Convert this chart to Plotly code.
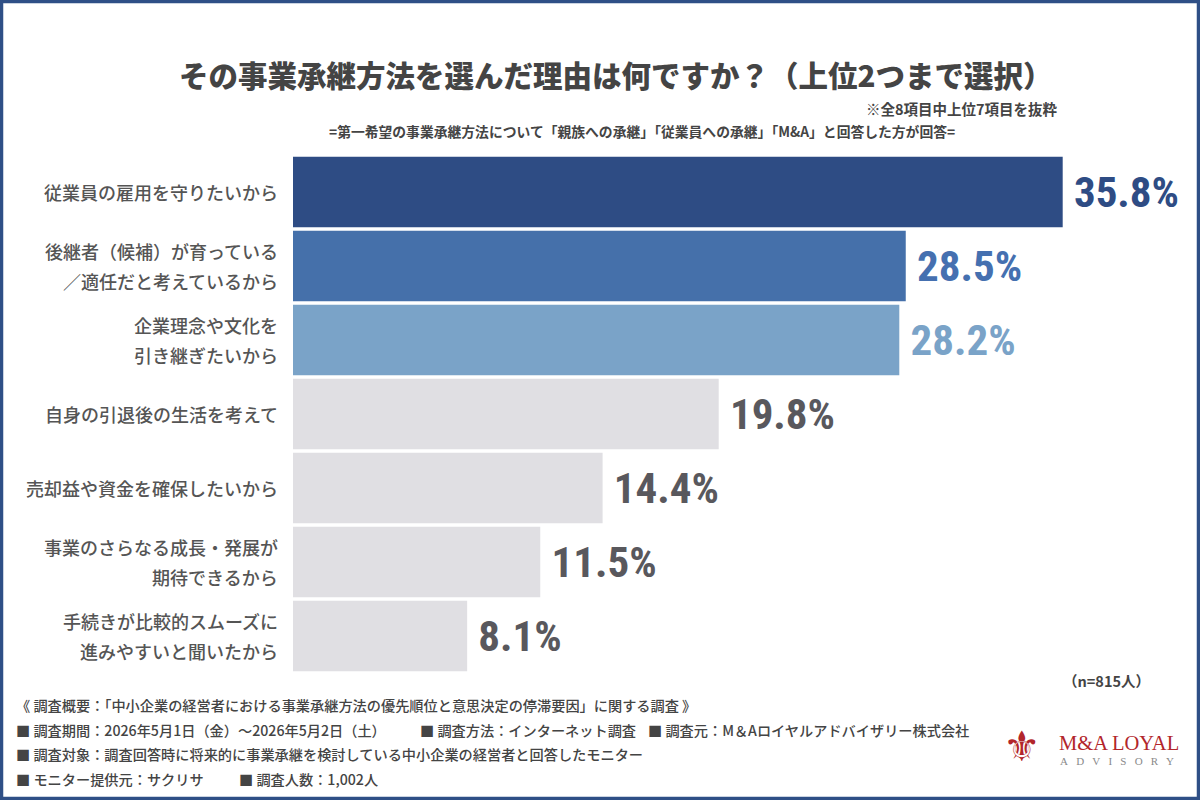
import plotly.graph_objects as go

categories = [
    "従業員の雇用を守りたいから",
    "後継者（候補）が育っている<br>／適任だと考えているから",
    "企業理念や文化を<br>引き継ぎたいから",
    "自身の引退後の生活を考えて",
    "売却益や資金を確保したいから",
    "事業のさらなる成長・発展が<br>期待できるから",
    "手続きが比較的スムーズに<br>進みやすいと聞いたから",
]
values = [35.8, 28.5, 28.2, 19.8, 14.4, 11.5, 8.1]
bar_colors = ["#2E4C84", "#4570AA", "#7AA3C8", "#E0DFE3", "#E0DFE3", "#E0DFE3", "#E0DFE3"]
text_colors = ["#2E4C84", "#4570B0", "#7AA3C8", "#59585D", "#59585D", "#59585D", "#59585D"]

title = "その事業承継方法を選んだ理由は何ですか？（上位2つまで選択）"
note = "※全8項目中上位7項目を抜粋"
subtitle = "=第一希望の事業承継方法について「親族への承継」「従業員への承継」「M&A」と回答した方が回答="
n_text = "（n=815人）"
footer_lines = [
    "《 調査概要：「中小企業の経営者における事業承継方法の優先順位と意思決定の停滞要因」に関する調査 》",
    "■ 調査期間：2026年5月1日（金）～2026年5月2日（土）",
    "■ 調査対象：調査回答時に将来的に事業承継を検討している中小企業の経営者と回答したモニター",
    "■ モニター提供元：サクリサ",
]
footer_extra = [
    ("■ 調査方法：インターネット調査", 418, 1),
    ("■ 調査元：M＆Aロイヤルアドバイザリー株式会社", 646, 1),
    ("■ 調査人数：1,002人", 237, 3),
]

W, H = 1200, 800
JP = "Noto Sans CJK JP"
NUM = "Liberation Sans Narrow, Roboto Condensed, Roboto, sans-serif"

fig = go.Figure()
fig.add_trace(go.Bar(
    x=values,
    y=categories,
    orientation="h",
    marker=dict(color=bar_colors, line=dict(width=0)),
    text=[f"\u2009{v:.1f}%" for v in values],
    textposition="outside",
    textfont=dict(family=NUM, size=43, color=text_colors, weight="bold"),
    cliponaxis=False,
    hoverinfo="skip",
))

fig.update_layout(
    width=W, height=H,
    paper_bgcolor="white", plot_bgcolor="white",
    margin=dict(l=293, r=20, t=155, b=127),
    bargap=0.05,
    showlegend=False,
    xaxis=dict(range=[0, 887 / 21.5], visible=False, fixedrange=True),
    yaxis=dict(autorange="reversed", showgrid=False, showline=False, zeroline=False,
               ticks="", showticklabels=False),
    font=dict(family=JP),
)

# category labels (one annotation per text line for wider line spacing)
for cat in categories:
    parts = cat.split("<br>")
    n = len(parts)
    for j, part in enumerate(parts):
        fig.add_annotation(
            text=part, xref="paper", yref="y", x=-13 / 887, y=cat,
            xanchor="right", yanchor="middle", showarrow=False,
            yshift=(n - 1) * 15 - j * 30,
            font=dict(family=JP, size=18, color="#555555", weight=500),
        )

# frame
fig.add_shape(type="rect", xref="paper", yref="paper",
              x0=-293 / 887 + 1.5 / 887, x1=1 + 20 / 887 - 1.5 / 887,
              y0=-127 / 518 + 1.5 / 518, y1=1 + 155 / 518 - 1.5 / 518,
              line=dict(color="#2F4F86", width=3.5), layer="above")

def px_annot(text, x, y, size, color="#444444", xanchor="left", weight="bold", family=JP):
    fig.add_annotation(
        text=text, xref="paper", yref="paper",
        x=(x - 293) / 887, y=(H - 127 - y) / 518,
        xanchor=xanchor, yanchor="middle", showarrow=False,
        font=dict(family=family, size=size, color=color, weight=weight),
    )

px_annot(title, 615, 74, 29.5, "#444444", "center", 900)
px_annot(note, 1060, 108, 14.5, "#444444", "right")
px_annot(subtitle, 642, 131, 13.8, "#444444", "center")
px_annot(n_text, 1152, 680, 14.5, "#444444", "right")

for i, line in enumerate(footer_lines):
    px_annot(line, 14, 705 + i * 24.5, 14.2, "#444444", "left", 500)
for text, x, row in footer_extra:
    px_annot(text, x, 705 + row * 24.5, 14.2, "#444444", "left", 500)

# logo
px_annot("⚜", 1022, 746, 42, "#B2262B", "center", "normal", "DejaVu Sans")
px_annot("M&A LOYAL", 1057, 743, 20.5, "#B2262B", "left", "normal", "Liberation Serif")
px_annot("\u2002 ".join("ADVISORY"), 1058, 761, 11, "#8A8A8A", "left", "normal", "Liberation Serif")

fig.write_html("out.html")
